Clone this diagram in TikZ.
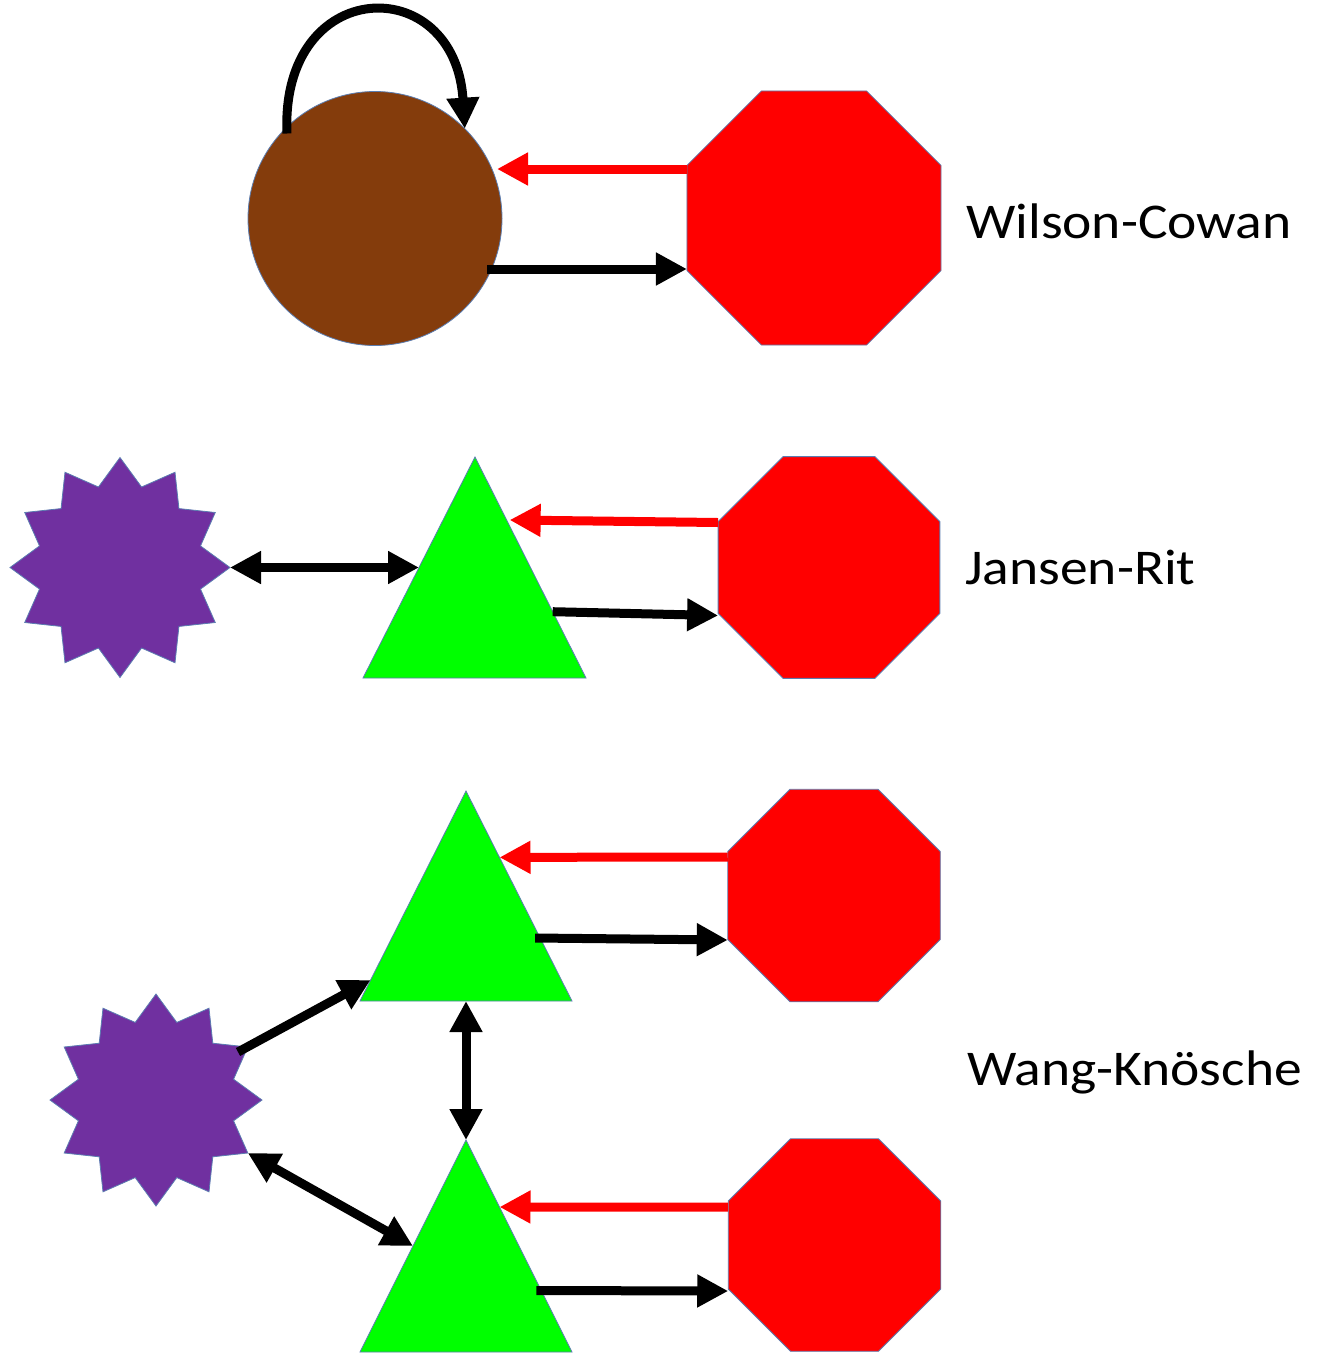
\documentclass[tikz,border=0pt]{standalone}
\usepackage{fontspec}
\usepackage{graphicx}
\setmainfont{Carlito}
\usetikzlibrary{arrows.meta,calc,shapes.geometric}
\definecolor{brownfill}{HTML}{843C0C}
\definecolor{redfill}{HTML}{FF0000}
\definecolor{greenfill}{HTML}{00FF00}
\definecolor{purplefill}{HTML}{7030A0}
\definecolor{rim}{HTML}{5B7DB1}
\begin{document}
\begin{tikzpicture}[x=1pt,y=-1pt,
  popnode/.style={draw=rim, line width=0.8pt, inner sep=0pt, outer sep=0pt},
  octa/.style={popnode, fill=redfill, regular polygon, regular polygon sides=8, minimum size=#1},
  burst/.style={popnode, fill=purplefill, star, star points=12, star point ratio=1.32, minimum size=#1},
  tri/.style={draw=rim, line width=0.8pt, fill=greenfill, line join=miter},
  link/.style={line width=9pt, -{Triangle[length=31pt,width=31pt]}},
  both/.style={line width=9pt, {Triangle[length=31pt,width=31pt]}-{Triangle[length=31pt,width=31pt]}},
  inhib/.style={link, draw=redfill},
  tagtext/.style={anchor=base west, inner sep=0pt, font=\fontsize{50}{60}\selectfont}
]
\useasboundingbox (0,0) rectangle (1319,1353);
\fill[white] (0,0) rectangle (1319,1353);

% ---------- Wilson-Cowan ----------
\node[popnode, circle, fill=brownfill, minimum size=254pt] (pop) at (375,218.5) {};
\node[octa=275pt] (o1) at (814,218) {};
\draw[link] ($(pop.center)+(-88,-85)$) .. controls (280,-25) and (455,-30) .. (pop.45);
\draw[inhib] ($(o1.west)+(0,-49)$) -- ($(pop.center)+(122,-49.5)$);
\draw[link] ($(pop.center)+(112,50.5)$) -- ($(o1.west)+(0,51)$);
\node[tagtext] (wc) at (966,238) {\scalebox{1.11}[1]{Wilson-Cowan}};

% ---------- Jansen-Rit ----------
\node[burst=220pt] (s1) at (120,567.5) {};
\coordinate (t2a) at (475,457);
\coordinate (t2l) at (363,678);
\coordinate (t2r) at (586,678);
\draw[tri] (t2a) -- (t2l) -- (t2r) -- cycle;
\node[octa=240pt] (o2) at (829,567.5) {};
\draw[both] (s1.east) -- ($(t2a)!0.5!(t2l)$);
\draw[inhib] ($(o2.west)+(0,-45)$) -- ($(t2a)!0.285!(t2r)+(3,0)$);
\draw[link] ($(t2a)!0.7!(t2r)$) -- ($(o2.west)+(0,48)$);
\node[tagtext] (jr) at (965,584) {\scalebox{1.11}[1]{Jansen-Rit}};

% ---------- Wang-Knoesche ----------
\node[burst=212pt] (s2) at (156,1100) {};
\coordinate (t3a) at (466,791);
\coordinate (t3l) at (360,1001);
\coordinate (t3r) at (572,1001);
\draw[tri] (t3a) -- (t3l) -- (t3r) -- cycle;
\node[octa=230pt] (o3) at (834,895.5) {};
\coordinate (t4a) at (466,1140);
\coordinate (t4l) at (360,1352);
\coordinate (t4r) at (572,1352);
\draw[tri] (t4a) -- (t4l) -- (t4r) -- cycle;
\node[octa=230pt] (o4) at (834.5,1245) {};

\draw[inhib] ($(o3.west)+(0,-38.5)$) -- ($(t3a)!0.316!(t3r)$);
\draw[link] ($(t3a)!0.7!(t3r)+(-5,0)$) -- ($(o3.west)+(0,44.5)$);
\draw[inhib] ($(o4.west)+(0,-38)$) -- ($(t4a)!0.316!(t4r)$);
\draw[link] ($(t4a)!0.71!(t4r)+(-5,0)$) -- ($(o4.west)+(0,46)$);
\draw[link] ($(s2.center)+(82,-48)$) -- ($(t3a)!0.9!(t3l)$);
\draw[both] (s2.-30) -- ($(t4a)!0.5!(t4l)$);
\draw[both] ($(t3l)!0.5!(t3r)$) -- (t4a);
\node[tagtext] (wk) at (967,1085) {\scalebox{1.11}[1]{Wang-Knösche}};
\end{tikzpicture}
\end{document}
